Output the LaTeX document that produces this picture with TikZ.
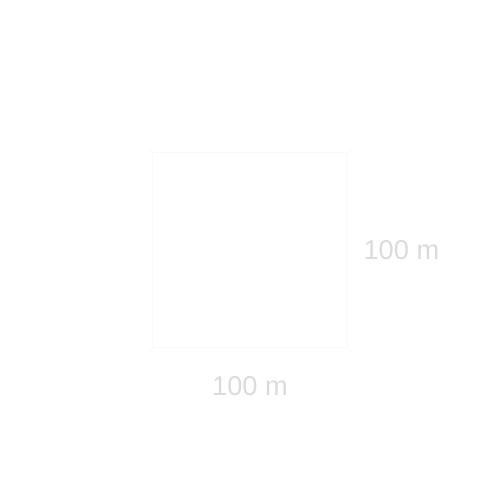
\documentclass[tikz,border=0pt]{standalone}
\usepackage{fontspec}
\setmainfont{Liberation Sans}
\usepackage{tikz}
\usetikzlibrary{positioning}

\begin{document}
\begin{tikzpicture}[
  font=\fontsize{15.5}{18}\selectfont,
  field/.style={draw=gray!4,line width=0.5pt,minimum size=3.9cm,inner sep=0pt},
  dimlabel/.style={text=gray!28,inner sep=1pt}]
\useasboundingbox (0,0) rectangle (10,10);
\node[field] (plot) at (5,5) {};
\node[dimlabel,right=0.27cm of plot] (side) {100 m};
\node[dimlabel,below=0.52cm of plot] (base) {100 m};
% small ticks at the corners
\foreach \c/\a in {north west/135,north east/45,south west/225,south east/315}
  \draw[gray!5,line width=0.5pt] (plot.\c) -- ++(\a:0.12);
\end{tikzpicture}
\end{document}
